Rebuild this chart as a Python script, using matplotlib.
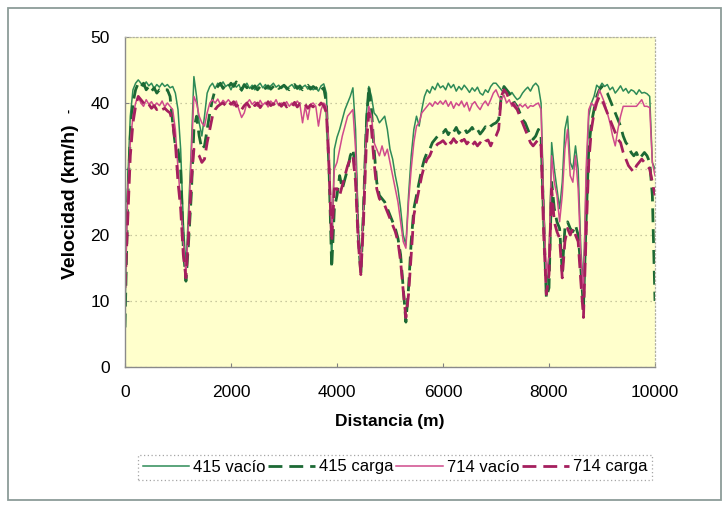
import matplotlib
matplotlib.use("Agg")
import matplotlib.pyplot as plt
from matplotlib.patches import Rectangle

plt.rcParams['font.family'] = ['Liberation Sans', 'DejaVu Sans']

distancia = [
    0, 50, 100, 150, 200, 250, 300, 350, 400, 450, 500, 550, 600, 650, 700, 750, 800, 850, 900, 950,
    1000, 1050, 1100, 1150, 1200, 1250, 1300, 1350, 1400, 1450, 1500, 1550, 1600, 1650, 1700, 1750, 1800, 1850, 1900, 1950,
    2000, 2050, 2100, 2150, 2200, 2250, 2300, 2350, 2400, 2450, 2500, 2550, 2600, 2650, 2700, 2750, 2800, 2850, 2900, 2950,
    3000, 3050, 3100, 3150, 3200, 3250, 3300, 3350, 3400, 3450, 3500, 3550, 3600, 3650, 3700, 3750, 3800, 3850, 3900, 3950,
    4000, 4050, 4100, 4150, 4200, 4250, 4300, 4350, 4400, 4450, 4500, 4550, 4600, 4650, 4700, 4750, 4800, 4850, 4900, 4950,
    5000, 5050, 5100, 5150, 5200, 5250, 5300, 5350, 5400, 5450, 5500, 5550, 5600, 5650, 5700, 5750, 5800, 5850, 5900, 5950,
    6000, 6050, 6100, 6150, 6200, 6250, 6300, 6350, 6400, 6450, 6500, 6550, 6600, 6650, 6700, 6750, 6800, 6850, 6900, 6950,
    7000, 7050, 7100, 7150, 7200, 7250, 7300, 7350, 7400, 7450, 7500, 7550, 7600, 7650, 7700, 7750, 7800, 7850, 7900, 7950,
    8000, 8050, 8100, 8150, 8200, 8250, 8300, 8350, 8400, 8450, 8500, 8550, 8600, 8650, 8700, 8750, 8800, 8850, 8900, 8950,
    9000, 9050, 9100, 9150, 9200, 9250, 9300, 9350, 9400, 9450, 9500, 9550, 9600, 9650, 9700, 9750, 9800, 9850, 9900, 9950,
    10000]

v415_vacio = [
    8, 28, 38, 42, 43, 43.5, 43, 42.5, 43.2, 42.6, 43, 42.2, 42.8, 42.4, 43, 42.5, 42.8, 42.3, 42.5, 41.5,
    39, 33, 22, 15, 24, 33, 44, 41, 37, 35, 38, 41.5, 42.5, 43, 42.2, 43, 42.6, 43.2, 42.5, 42.8,
    42, 43, 42.4, 42.8, 41.8, 42.5, 43, 42.2, 42.7, 42, 42.6, 43, 42.3, 42.8, 42.1, 42.6, 43, 42.4, 42.7, 42.2,
    42.6, 42, 42.5, 42.8, 42.2, 42.6, 42, 42.4, 42.7, 42.1, 42.5, 42, 42.3, 41.8, 42.6, 42.9, 41.5, 30, 15.5, 33,
    34.8, 36, 37.5, 39, 40, 41, 42.3, 36, 22, 14, 25, 38, 42.5, 41, 38.5, 38, 37, 37.5, 38, 36,
    33, 31.5, 29, 27, 24, 20, 18.5, 26, 32, 36, 38, 36.5, 39, 41, 42, 41.5, 42.5, 42, 43, 42.3,
    42.6, 42, 43, 42.3, 42.8, 41.8, 42.5, 42, 42.7, 42.2, 41.6, 42.3, 41.8, 42.4, 41.5, 41.2, 42, 41.6, 42.5, 43,
    43, 42.5, 42, 41.5, 42, 41.2, 41.6, 41, 40.5, 40.8, 41.5, 42, 42.4, 41.8, 42.6, 43, 42.5, 40, 25, 12,
    15, 34, 30, 27, 24, 28, 36, 38, 31, 30, 33.5, 30, 18, 12, 28, 38, 40, 41, 42.7, 42.3,
    43, 42.5, 42.8, 42, 42.4, 41.5, 42, 42.6, 41.8, 42.2, 41.5, 42, 41.8, 41.3, 42, 41.5, 41.6, 41.4, 41, 31,
    30]

v415_carga = [
    6, 25, 35, 40, 42, 43, 42.5, 43, 42, 42.5, 41.8, 42.3, 41.5, 42, 41.8, 42, 42, 41, 37, 33.5,
    33, 30, 18, 13, 19, 26, 36, 38, 35, 33, 33.5, 36, 38.5, 40.5, 42, 42.5, 43, 42.2, 42.8, 42.4,
    43, 42.5, 43.2, 42.4, 42, 42.8, 42.3, 42.9, 42.2, 42.6, 42, 42.5, 42.8, 42.2, 42.6, 42.1, 42.5, 42.8, 42.2, 42.4,
    42.7, 42.3, 42, 42.5, 42.8, 42.2, 42.6, 42, 42.4, 42.7, 42.1, 42.5, 42.2, 42.6, 42, 42.3, 40, 30, 15, 24,
    26, 29, 27, 28.5, 30, 32, 33, 30, 20, 14, 24, 36, 42.5, 39, 33, 28, 26, 25.5, 25, 24,
    23, 22, 21, 19.5, 17, 12, 6.8, 12, 19, 24, 26, 28, 30, 31.5, 32.5, 33, 34, 34.5, 35, 35.5,
    35.5, 36, 35.2, 36, 35.6, 36.3, 35.4, 35.9, 36.2, 35.5, 35.8, 36.3, 35.6, 36, 35.3, 35.8, 36.4, 36, 36.5, 36.8,
    37, 37.5, 41, 42.5, 42, 41.5, 41, 40, 39.5, 38.5, 37.5, 37, 36, 35, 34.5, 35, 36, 35, 22, 10.5,
    12, 28, 24, 22, 21, 14.5, 21, 22, 21, 20.5, 21.5, 20, 15, 9, 22, 33, 37, 39, 41, 42,
    42.5, 42, 41.5, 40.5, 39.5, 38.5, 37.5, 36.5, 35, 34, 33.5, 32.5, 32, 32.5, 31.5, 32, 32.5, 32, 31, 26,
    10]

v714_vacio = [
    10, 26, 34, 38, 40, 41, 40, 39.5, 40.5, 39.8, 40.2, 39.5, 40, 39.6, 40.3, 39.4, 40, 39.5, 39, 36,
    30, 25, 19, 14, 22, 32, 41, 40, 38, 37, 36.5, 38.5, 40, 40.5, 40, 40.6, 39.8, 40.4, 40, 40.5,
    40, 39.6, 40.3, 39, 37.8, 38.5, 40, 40.5, 39.8, 40.2, 39.5, 40.4, 39.7, 40.1, 39.4, 40.3, 39.8, 40.5, 39.6, 40,
    39.7, 40.2, 39.5, 40, 39.6, 40.3, 39.8, 37, 39.5, 37.5, 39.8, 40, 39.5, 36.5, 39, 40, 39.5, 33, 20, 30,
    31, 33, 35, 36.5, 38, 38.5, 39, 33, 20, 15, 24, 35, 39.5, 38, 34, 33, 32, 33.5, 32, 33,
    31, 29, 27, 25, 22, 19, 18, 25, 30, 34, 36.5, 37, 38.5, 39, 39.5, 40, 39.5, 40.2, 39.8, 40.3,
    39.8, 40.4, 39.5, 40.2, 39.2, 40, 39.6, 40.3, 39.4, 40.1, 38.8, 39.8, 40.2, 39.5, 39, 39.8, 40.3, 39.6, 40.5, 41.5,
    42, 41, 40.5, 41.2, 40, 40.5, 39.5, 40, 39.2, 39.8, 39.4, 39.8, 39.2, 39.6, 39.5, 39.8, 40, 39, 24, 14,
    17, 32, 28, 26, 22, 26, 33, 36, 29, 28, 32, 27, 17, 11, 30, 39, 40, 39.5, 40.5, 42,
    41, 40, 38.5, 37, 35, 33.5, 36, 38, 39.5, 39.5, 39.5, 39.5, 39.5, 39.5, 40, 40.5, 39.5, 39.5, 39.3, 31,
    29]

v714_carga = [
    12, 22, 32, 37, 39.5, 41, 40.5, 40, 39.5, 39.8, 39.2, 39.6, 39, 39.4, 39, 39.2, 38.8, 38.5, 37, 34,
    28, 24, 17, 13.5, 20, 28, 33, 32.5, 32, 31, 31.5, 34, 36, 38, 39, 39.5, 39.8, 40, 39.6, 40.2,
    39.8, 40.2, 39.5, 39.8, 39, 39.6, 40, 39.4, 40.1, 39.6, 40, 39.3, 39.9, 39.5, 40.2, 39.6, 39.9, 39.4, 40, 39.5,
    40, 39.4, 39.8, 39.5, 40.1, 39.4, 39.9, 39.5, 39.8, 39.2, 39.7, 39.4, 39.9, 39.5, 40, 39.6, 38.5, 30, 19, 27,
    27, 26, 27.5, 29, 30.5, 31.5, 32, 28, 19, 14, 22, 33, 38.5, 36, 31, 27, 25.5, 25, 24.5, 23.5,
    22.5, 21.5, 20.5, 19, 16, 11.5, 7.5, 11, 17, 23, 25, 27, 29, 30.5, 31.5, 32, 33, 33.3, 33.8, 34,
    34.3, 33.8, 34.5, 33.9, 34.6, 34, 34.8, 34.2, 34.5, 33.8, 34.3, 33.6, 34.1, 33.5, 34, 33.6, 34.2, 34.4, 33.5, 34.5,
    35, 36, 41, 42, 41.5, 40.5, 40, 39.5, 39, 38, 37, 36, 35, 34, 33.5, 34, 34.5, 33.5, 20, 11,
    14, 27, 22, 20.5, 19.5, 13.5, 19, 21, 20, 21, 20, 19, 13, 7.5, 20, 31, 36, 38.5, 40, 41,
    40.5, 39.5, 38.5, 37.5, 36.5, 35.5, 34.5, 34, 32.5, 31.5, 30.5, 30, 29.5, 30.5, 31, 31.5, 31, 30.5, 30, 28,
    26]

series_labels = ["415 vacío", "415 carga", "714 vacío", "714 carga"]
x_ticks = [0, 2000, 4000, 6000, 8000, 10000]
y_ticks = [0, 10, 20, 30, 40, 50]

W, H = 724, 505
fig = plt.figure(figsize=(W / 100, H / 100), dpi=100)
fig.patch.set_facecolor('white')
fig.patches.append(Rectangle((8 / W, 1 - 500 / H), (721 - 8) / W, (500 - 8) / H,
                             transform=fig.transFigure, fill=False,
                             edgecolor='#8c9c98', linewidth=1.3))

ax = fig.add_axes([125 / W, 1 - 367 / H, (655 - 125) / W, (367 - 37) / H])
ax.set_facecolor('#ffffcc')

l1, = ax.plot(distancia, v415_vacio, color='#2e8b57', lw=1.1, label=series_labels[0])
l2, = ax.plot(distancia, v415_carga, color='#1c6934', lw=2.0, dashes=(5, 2.5), label=series_labels[1])
l3, = ax.plot(distancia, v714_vacio, color='#d04a8c', lw=1.1, label=series_labels[2])
l4, = ax.plot(distancia, v714_carga, color='#a51f5e', lw=2.0, dashes=(5, 2.5), label=series_labels[3])

ax.set_xlim(0, 10000)
ax.set_ylim(0, 50)
ax.set_xticks(x_ticks)
ax.set_yticks(y_ticks)
ax.tick_params(axis='both', direction='in', length=3, color='#808080', labelsize=12.5)
ax.tick_params(axis='x', pad=13)
ax.tick_params(axis='y', pad=11)
ax.yaxis.grid(True, linestyle=(0, (1, 3)), color='#b8b890', linewidth=0.9)
ax.set_axisbelow(True)
for s in ['left', 'bottom']:
    ax.spines[s].set_color('#8a8a8a')
    ax.spines[s].set_linewidth(1.0)
for s in ['top', 'right']:
    ax.spines[s].set_color('#b0b0a0')
    ax.spines[s].set_linestyle((0, (1, 2)))
    ax.spines[s].set_linewidth(0.9)

ax.set_xlabel("Distancia (m)", fontsize=12.5, fontweight='bold', labelpad=10)
ax.set_ylabel("Velocidad (km/h)", fontsize=14, fontweight='bold', labelpad=8)

fig.text(69 / W, 1 - 111 / H, "-", fontsize=9, fontweight='bold', rotation=90,
         ha='center', va='center')

leg = fig.legend(handles=[l1, l2, l3, l4], loc='center', bbox_to_anchor=(395 / W, 1 - 467 / H),
                 ncol=4, fontsize=12, frameon=True, fancybox=False, handlelength=2.8,
                 handletextpad=0.25, columnspacing=0.15, borderpad=0.3, borderaxespad=0)
frame = leg.get_frame()
frame.set_edgecolor('#909090')
frame.set_linestyle((0, (1, 2)))
frame.set_linewidth(0.9)

fig.savefig("out.png", dpi=100)
